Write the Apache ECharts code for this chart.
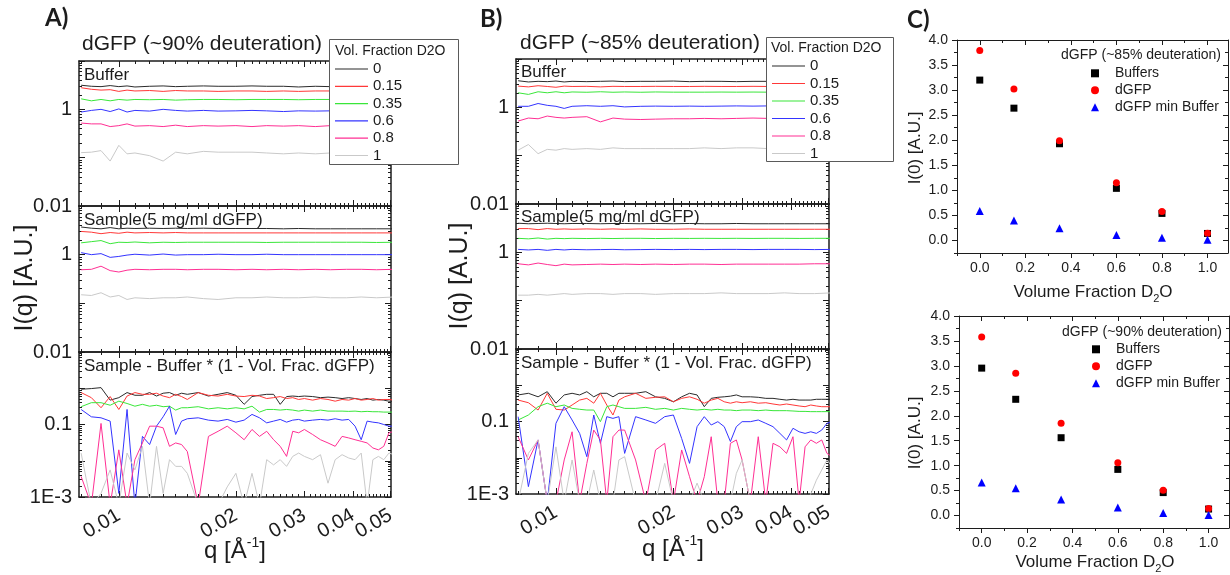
<!DOCTYPE html>
<html>
<head>
<meta charset="utf-8">
<script src="https://cdn.jsdelivr.net/npm/echarts@6/dist/echarts.min.js"></script>
<style>
  html, body { margin: 0; padding: 0; background: #ffffff; }
  #chart { width: 1230px; height: 575px; }
</style>
</head>
<body>
<div id="chart"></div>
<script>
// ---------------- data ----------------
// scattering vector q (1/Å) sampled for the flat curves and for the noisy difference curves
const qCoarse = [0.0080, 0.0085, 0.0090, 0.0095, 0.0100, 0.0105, 0.0110, 0.0120, 0.0130, 0.0140, 0.0150, 0.0165,
                 0.0180, 0.0200, 0.0220, 0.0240, 0.0265, 0.0290, 0.0320, 0.0350, 0.0385, 0.0420, 0.0460, 0.0510];
const qFine = [0.0080, 0.0085, 0.0090, 0.0095, 0.0100, 0.0105, 0.0110, 0.0115, 0.0120, 0.0125, 0.0130, 0.0135, 0.0140, 0.0145, 0.0150,
               0.0160, 0.0170, 0.0180, 0.0190, 0.0200, 0.0210, 0.0220, 0.0230, 0.0240, 0.0250, 0.0260, 0.0270, 0.0280, 0.0290, 0.0300,
               0.0315, 0.0330, 0.0345, 0.0360, 0.0375, 0.0390, 0.0405, 0.0420, 0.0435, 0.0450, 0.0465, 0.0480, 0.0495, 0.0510];

const volFractions = ['0', '0.15', '0.35', '0.6', '0.8', '1'];

// dGFP ~90 % deuteration : buffers
const bufA0   = [3.15, 3.0, 2.95, 3.1, 2.95, 3.05, 2.9, 3.0, 3.05, 2.95, 3.0, 3.05, 3.0, 3.0, 3.05, 3.0, 3.0, 2.9, 3.0, 2.95, 3.0, 2.95, 3.0, 3.0];
const bufA15  = [2.8, 2.6, 2.5, 2.55, 2.35, 2.5, 2.4, 2.45, 2.35, 2.45, 2.4, 2.4, 2.35, 2.4, 2.4, 2.35, 2.4, 2.35, 2.4, 2.4, 2.35, 2.4, 2.4, 2.4];
const bufA35  = [1.65, 1.5, 1.6, 1.5, 1.6, 1.55, 1.6, 1.58, 1.6, 1.55, 1.58, 1.6, 1.6, 1.58, 1.6, 1.6, 1.6, 1.58, 1.6, 1.6, 1.58, 1.6, 1.6, 1.6];
const bufA60  = [0.88, 0.95, 1.0, 0.9, 1.02, 0.88, 0.95, 0.92, 1.0, 0.95, 0.92, 0.95, 0.92, 0.93, 0.95, 0.93, 0.9, 0.93, 0.92, 0.93, 0.92, 0.93, 0.93, 0.92];
const bufA80  = [0.52, 0.5, 0.5, 0.44, 0.46, 0.5, 0.45, 0.46, 0.44, 0.47, 0.44, 0.46, 0.45, 0.46, 0.44, 0.46, 0.45, 0.46, 0.44, 0.46, 0.45, 0.46, 0.46, 0.47];
const bufA100 = [0.127, 0.13, 0.14, 0.085, 0.18, 0.12, 0.125, 0.11, 0.085, 0.13, 0.12, 0.135, 0.13, 0.13, 0.13, 0.125, 0.12, 0.125, 0.12, 0.125, 0.12, 0.125, 0.12, 0.125];
// dGFP ~90 % deuteration : samples
const smpA0   = [3.7, 3.5, 3.4, 3.6, 3.4, 3.5, 3.45, 3.5, 3.45, 3.5, 3.45, 3.5, 3.45, 3.45, 3.45, 3.45, 3.4, 3.45, 3.4, 3.4, 3.4, 3.4, 3.4, 3.4];
const smpA15  = [3.0, 2.9, 2.7, 2.85, 2.75, 2.9, 2.8, 2.85, 2.8, 2.85, 2.8, 2.8, 2.8, 2.8, 2.8, 2.8, 2.8, 2.8, 2.8, 2.8, 2.8, 2.8, 2.8, 2.8];
const smpA35  = [1.75, 1.85, 1.95, 1.68, 1.8, 1.78, 1.82, 1.75, 1.8, 1.78, 1.8, 1.8, 1.8, 1.8, 1.8, 1.78, 1.8, 1.8, 1.8, 1.8, 1.8, 1.8, 1.78, 1.8];
const smpA60  = [1.1, 1.0, 1.05, 0.88, 0.92, 0.98, 1.02, 0.98, 1.03, 0.98, 1.0, 1.0, 1.02, 1.0, 1.0, 1.02, 1.0, 1.0, 1.0, 1.0, 1.0, 1.0, 1.0, 1.0];
const smpA80  = [0.49, 0.5, 0.58, 0.47, 0.44, 0.48, 0.5, 0.49, 0.5, 0.5, 0.49, 0.5, 0.5, 0.49, 0.5, 0.49, 0.5, 0.49, 0.5, 0.49, 0.5, 0.5, 0.49, 0.5];
const smpA100 = [0.15, 0.145, 0.165, 0.135, 0.145, 0.12, 0.13, 0.125, 0.13, 0.13, 0.135, 0.125, 0.12, 0.13, 0.13, 0.135, 0.13, 0.13, 0.135, 0.13, 0.13, 0.135, 0.13, 0.135];
// dGFP ~90 % deuteration : sample - buffer * (1 - vol. frac. dGFP)
const difA0   = [0.94, 0.98, 1.04, 0.47, 0.55, 0.76, 0.64, 0.64, 0.76, 0.61, 0.73, 0.76, 0.64, 0.73, 0.68, 0.76, 0.61, 0.68, 0.76, 0.64, 0.36, 0.59,
                 0.64, 0.68, 0.68, 0.36, 0.59, 0.61, 0.59, 0.61, 0.59, 0.55, 0.57, 0.55, 0.52, 0.55, 0.52, 0.49, 0.52, 0.47, 0.49, 0.47, 0.44, 0.44];
const difA15  = [0.76, 0.55, 0.29, 0.59, 0.26, 0.61, 0.76, 0.68, 0.68, 0.73, 0.61, 0.55, 0.68, 0.59, 0.49, 0.76, 0.64, 0.61, 0.68, 0.61, 0.59, 0.64,
                 0.61, 0.52, 0.55, 0.59, 0.52, 0.55, 0.49, 0.52, 0.47, 0.52, 0.49, 0.44, 0.49, 0.47, 0.52, 0.47, 0.49, 0.52, 0.47, 0.49, 0.49, 0.47];
const difA35  = [0.31, 0.40, 0.40, 0.34, 0.44, 0.38, 0.32, 0.36, 0.32, 0.34, 0.31, 0.32, 0.25, 0.29, 0.29, 0.31, 0.27, 0.29, 0.27, 0.29, 0.27, 0.32,
                 0.22, 0.26, 0.26, 0.25, 0.26, 0.25, 0.234, 0.25, 0.234, 0.25, 0.234, 0.234, 0.234, 0.23, 0.234, 0.225, 0.23, 0.225, 0.225, 0.22, 0.22, 0.22];
const difA60  = [0.26, 0.163, 0.153, 0.124, 0.00126, 0.26, 0.0006, 0.047, 0.028, 0.09, 0.163, 0.32, 0.053, 0.124, 0.144, 0.153, 0.132, 0.124, 0.138, 0.116, 0.132, 0.19,
                 0.153, 0.111, 0.124, 0.138, 0.116, 0.132, 0.138, 0.124, 0.132, 0.138, 0.132, 0.144, 0.132, 0.138, 0.09, 0.038, 0.124, 0.116, 0.111, 0.1, 0.09, 0.09];
const difA80  = [0.0037, 0.0006, 0.107, 0.0006, 0.02, 0.0006, 0.0107, 0.031, 0.09, 0.09, 0.081, 0.025, 0.031, 0.028, 0.018, 0.0006, 0.047, 0.065, 0.09, 0.059, 0.038, 0.073,
                 0.047, 0.065, 0.038, 0.025, 0.0132, 0.065, 0.059, 0.073, 0.053, 0.038, 0.031, 0.025, 0.047, 0.0426, 0.038, 0.0344, 0.031, 0.0225, 0.02, 0.025, 0.059, 0.065];
const difA100 = [0.0163, 0.0006, 0.00126, 0.0056, 0.0006, 0.0163, 0.0056, 0.025, 0.0006, 0.025, 0.00126, 0.0107, 0.007, 0.007, 0.0045, 0.0006, 0.0006, 0.0006, 0.0019, 0.0045, 0.0006, 0.0045,
                 0.0006, 0.0107, 0.0077, 0.0107, 0.007, 0.0132, 0.0163, 0.0132, 0.0107, 0.0147, 0.0024, 0.0107, 0.0147, 0.0119, 0.0107, 0.0163, 0.0006, 0.0107, 0.0132, 0.0107, 0.0163, 0.0147];

// dGFP ~85 % deuteration : buffers
const bufB0   = [3.55, 3.35, 3.45, 3.4, 3.5, 3.35, 3.45, 3.4, 3.45, 3.5, 3.4, 3.45, 3.45, 3.5, 3.4, 3.45, 3.45, 3.4, 3.45, 3.45, 3.45, 3.45, 3.45, 3.45];
const bufB15  = [2.75, 2.65, 2.8, 2.7, 2.6, 2.75, 2.7, 2.72, 2.65, 2.72, 2.7, 2.7, 2.72, 2.7, 2.7, 2.72, 2.7, 2.7, 2.72, 2.7, 2.7, 2.7, 2.72, 2.7];
const bufB35  = [2.0, 1.85, 2.1, 2.0, 2.1, 2.0, 2.08, 2.05, 2.1, 2.05, 2.08, 2.05, 2.08, 2.06, 2.06, 2.06, 2.07, 2.06, 2.07, 2.06, 2.06, 2.07, 2.06, 2.07];
const bufB60  = [1.05, 1.05, 1.2, 1.1, 1.05, 0.95, 1.05, 1.08, 1.05, 1.08, 1.02, 1.05, 1.06, 1.05, 1.06, 1.05, 1.06, 1.07, 1.06, 1.07, 1.06, 1.08, 1.07, 1.08];
const bufB80  = [0.52, 0.6, 0.58, 0.66, 0.62, 0.6, 0.62, 0.64, 0.5, 0.6, 0.57, 0.56, 0.57, 0.58, 0.58, 0.59, 0.58, 0.59, 0.6, 0.59, 0.6, 0.6, 0.61, 0.61];
const bufB100 = [0.13, 0.17, 0.11, 0.135, 0.13, 0.14, 0.135, 0.14, 0.135, 0.145, 0.14, 0.14, 0.14, 0.14, 0.14, 0.145, 0.14, 0.145, 0.145, 0.14, 0.145, 0.145, 0.14, 0.145];
// dGFP ~85 % deuteration : samples
const smpB0   = [4.0, 3.9, 3.95, 4.0, 3.95, 3.9, 3.95, 3.95, 3.9, 3.95, 3.95, 3.9, 3.95, 3.9, 3.95, 3.9, 3.9, 3.95, 3.9, 3.9, 3.9, 3.9, 3.9, 3.9];
const smpB15  = [3.1, 3.1, 2.95, 3.1, 3.0, 3.05, 3.0, 3.05, 3.0, 3.05, 3.0, 3.05, 3.0, 3.0, 3.05, 3.0, 3.0, 3.0, 3.0, 3.0, 3.0, 3.0, 3.0, 3.0];
const smpB35  = [1.95, 1.9, 1.98, 1.88, 1.95, 1.92, 1.95, 1.93, 1.95, 1.93, 1.95, 1.95, 1.93, 1.95, 1.94, 1.95, 1.94, 1.95, 1.94, 1.95, 1.95, 1.94, 1.95, 1.95];
const smpB60  = [1.15, 1.12, 1.15, 1.1, 1.15, 1.12, 1.15, 1.13, 1.14, 1.15, 1.13, 1.14, 1.15, 1.14, 1.15, 1.14, 1.15, 1.15, 1.14, 1.15, 1.15, 1.15, 1.14, 1.15];
const smpB80  = [0.58, 0.55, 0.6, 0.56, 0.53, 0.57, 0.55, 0.56, 0.57, 0.56, 0.57, 0.56, 0.57, 0.56, 0.57, 0.57, 0.56, 0.57, 0.57, 0.57, 0.57, 0.57, 0.58, 0.58];
const smpB100 = [0.13, 0.13, 0.135, 0.13, 0.135, 0.14, 0.135, 0.14, 0.14, 0.135, 0.14, 0.14, 0.135, 0.14, 0.14, 0.14, 0.145, 0.14, 0.14, 0.14, 0.145, 0.14, 0.14, 0.145];
// dGFP ~85 % deuteration : sample - buffer * (1 - vol. frac. dGFP)
const difB0   = [0.54, 0.60, 0.48, 0.665, 0.32, 0.54, 0.60, 0.54, 0.665, 0.48, 0.60, 0.60, 0.48, 0.60, 0.60, 0.60, 0.665, 0.48, 0.435, 0.35, 0.48, 0.60,
                 0.54, 0.256, 0.435, 0.465, 0.48, 0.50, 0.54, 0.48, 0.48, 0.465, 0.435, 0.435, 0.41, 0.39, 0.41, 0.39, 0.39, 0.39, 0.41, 0.41, 0.41, 0.41];
const difB15  = [0.39, 0.33, 0.207, 0.60, 0.217, 0.207, 0.285, 0.39, 0.435, 0.32, 0.60, 0.285, 0.151, 0.39, 0.48, 0.60, 0.435, 0.465, 0.48, 0.35, 0.435, 0.48,
                 0.41, 0.32, 0.39, 0.435, 0.35, 0.32, 0.35, 0.33, 0.35, 0.32, 0.33, 0.304, 0.285, 0.304, 0.285, 0.268, 0.256, 0.285, 0.268, 0.256, 0.256, 0.256];
const difB35  = [0.11, 0.151, 0.256, 0.32, 0.256, 0.285, 0.23, 0.217, 0.207, 0.207, 0.099, 0.256, 0.285, 0.256, 0.23, 0.23, 0.246, 0.217, 0.23, 0.207, 0.23, 0.217,
                 0.207, 0.217, 0.207, 0.217, 0.207, 0.207, 0.199, 0.207, 0.207, 0.199, 0.207, 0.199, 0.199, 0.199, 0.195, 0.19, 0.19, 0.187, 0.187, 0.187, 0.187, 0.187];
const difB60  = [0.136, 0.0016, 0.031, 0.0006, 0.089, 0.256, 0.11, 0.047, 0.0107, 0.151, 0.025, 0.136, 0.122, 0.136, 0.0132, 0.136, 0.11, 0.089, 0.136, 0.151, 0.034, 0.007,
                 0.072, 0.136, 0.08, 0.099, 0.072, 0.028, 0.072, 0.099, 0.099, 0.11, 0.089, 0.072, 0.047, 0.031, 0.065, 0.052, 0.047, 0.052, 0.047, 0.058, 0.089, 0.099];
const difB80  = [0.038, 0.0087, 0.031, 0.0006, 0.0006, 0.0087, 0.052, 0.0006, 0.007, 0.058, 0.031, 0.0006, 0.038, 0.058, 0.058, 0.0087, 0.0006, 0.0164, 0.025, 0.0006, 0.0164, 0.003,
                 0.0006, 0.003, 0.038, 0.0006, 0.0006, 0.025, 0.031, 0.0087, 0.0006, 0.038, 0.0006, 0.025, 0.020, 0.0132, 0.038, 0.0006, 0.020, 0.031, 0.025, 0.031, 0.0132, 0.0107];
const difB100 = [0.0006, 0.0132, 0.031, 0.0006, 0.020, 0.0006, 0.0087, 0.0006, 0.0006, 0.0046, 0.0006, 0.0006, 0.0006, 0.0087, 0.0107, 0.0006, 0.0006, 0.0006, 0.007, 0.0006, 0.0006, 0.0006,
                 0.002, 0.0006, 0.0006, 0.0006, 0.0006, 0.0006, 0.0037, 0.0087, 0.0006, 0.0006, 0.0006, 0.0006, 0.0006, 0.0006, 0.0006, 0.0006, 0.0006, 0.001, 0.0024, 0.0046, 0.0087, 0.0057];

// forward scattering I(0) versus D2O volume fraction
const d2oFraction = [0, 0.15, 0.35, 0.6, 0.8, 1.0];
const i0Buffers85 = [3.2, 2.64, 1.93, 1.04, 0.54, 0.14];
const i0Dgfp85    = [3.79, 3.02, 1.99, 1.15, 0.58, 0.146];
const i0Diff85    = [0.59, 0.40, 0.245, 0.11, 0.053, 0.013];
const i0Buffers90 = [2.955, 2.33, 1.56, 0.925, 0.46, 0.13];
const i0Dgfp90    = [3.58, 2.85, 1.85, 1.06, 0.506, 0.14];
const i0Diff90    = [0.66, 0.545, 0.32, 0.16, 0.053, 0.013];

// ticks and tick labels
const Q_MIN = 0.0079, Q_MAX = 0.0501;
const qTickValues = [0.01, 0.02, 0.03, 0.04, 0.05];
const qTickLabelsLow = [0.01, 0.02, 0.03, 0.04];
const qTickLabelsEnd = [0.05];
const qMinorTicks = [0.008, 0.009, 0.011, 0.012, 0.013, 0.014, 0.015, 0.016, 0.017, 0.018, 0.019,
                     0.021, 0.022, 0.023, 0.024, 0.025, 0.026, 0.027, 0.028, 0.029,
                     0.031, 0.032, 0.033, 0.034, 0.035, 0.036, 0.037, 0.038, 0.039,
                     0.041, 0.042, 0.043, 0.044, 0.045, 0.046, 0.047, 0.048, 0.049];
const iDecades = [0.001, 0.01, 0.1, 1, 10];
const iMinorTicks = [0.002, 0.003, 0.004, 0.005, 0.006, 0.007, 0.008, 0.009,
                     0.02, 0.03, 0.04, 0.05, 0.06, 0.07, 0.08, 0.09,
                     0.2, 0.3, 0.4, 0.5, 0.6, 0.7, 0.8, 0.9,
                     2, 3, 4, 5, 6, 7, 8, 9];
const iLabelsUpper = [0.01, 1];
const iLabelsDiff = [0.001, 0.1];
const d2oTickLabels = [0, 0.2, 0.4, 0.6, 0.8, 1.0];
const d2oMinorTicks = [-0.1, 0.1, 0.3, 0.5, 0.7, 0.9];
const i0TickLabels = [0, 0.5, 1.0, 1.5, 2.0, 2.5, 3.0, 3.5, 4.0];
const i0MinorTicks = [-0.25, 0.25, 0.75, 1.25, 1.75, 2.25, 2.75, 3.25, 3.75];

// ---------------- styling ----------------
const FONT = '"Liberation Sans", Arial, Helvetica, sans-serif';
const INK = '#1c1c1c';
const lineColors = ['#2b2b2b', '#ff3838', '#3ae63a', '#3434ff', '#ff2f93', '#c9c9c9'];

const grids = [], xAxes = [], yAxes = [], series = [];

function axisBase(gi, type, position, min, max, lw, label) {
  const o = {
    type: type, gridIndex: gi, position: position, min: min, max: max,
    axisLine: { show: true, onZero: false, lineStyle: { color: INK, width: lw } },
    axisLabel: label || { show: false },
    splitLine: { show: false },
    minorTick: { show: false },
    minorSplitLine: { show: false },
    axisPointer: { show: false },
    silent: true
  };
  if (type === 'log') o.logBase = 10;
  return o;
}

// one axis carries the line, labels and major ticks; a twin on the same side carries the
// minor ticks (and, optionally, a separate set of labels)
function addTicks(list, base, inside, major, minor, majLen, minLen, twinLabel) {
  const idx = list.length;
  list.push(Object.assign({}, base, {
    axisTick: { show: true, inside: inside, length: majLen, customValues: major, lineStyle: { color: INK, width: 1 } }
  }));
  list.push(Object.assign({}, base, {
    axisLine: { show: false, onZero: false },
    axisLabel: twinLabel || { show: false },
    axisTick: { show: true, inside: inside, length: minLen, customValues: minor, lineStyle: { color: INK, width: 1 } }
  }));
  return idx;
}

function fmtNum(v) { return String(+(+v).toPrecision(2)); }

function qLabelStyle(values) {
  return {
    show: true, customValues: values, rotate: 30, margin: 17, hideOverlap: false,
    fontSize: 20, fontFamily: FONT, color: INK, formatter: fmtNum
  };
}

function addLogPanel(box, yMin, yMax, yLabelValues, withQLabels) {
  const gi = grids.length;
  grids.push(Object.assign({ outerBoundsMode: 'none', containLabel: false }, box));
  const yMaj = iDecades.filter(v => v >= yMin && v <= yMax);
  const yMnr = iMinorTicks.filter(v => v >= yMin && v <= yMax);
  const xi = addTicks(xAxes, axisBase(gi, 'log', 'bottom', Q_MIN, Q_MAX, 1.5, withQLabels ? qLabelStyle(qTickLabelsLow) : null),
                      true, qTickValues, qMinorTicks, 6, 3, withQLabels ? qLabelStyle(qTickLabelsEnd) : null);
  addTicks(xAxes, axisBase(gi, 'log', 'top', Q_MIN, Q_MAX, 1.5), true, qTickValues, qMinorTicks, 6, 3);
  const yLabel = {
    show: true, customValues: yLabelValues, margin: 7, fontSize: 20, fontFamily: FONT, color: INK,
    hideOverlap: false,
    formatter: v => (+v < 0.005 ? '1E-3' : fmtNum(v))
  };
  const yi = addTicks(yAxes, axisBase(gi, 'log', 'left', yMin, yMax, 1.5, yLabel), true, yMaj, yMnr, 6, 3);
  addTicks(yAxes, axisBase(gi, 'log', 'right', yMin, yMax, 1.5), true, yMaj, yMnr, 6, 3);
  return { xi: xi, yi: yi };
}

function addCurves(axes, q, curves) {
  curves.forEach((vals, k) => {
    series.push({
      type: 'line', name: volFractions[k], xAxisIndex: axes.xi, yAxisIndex: axes.yi,
      data: q.map((x, i) => [x, vals[i]]),
      symbol: 'none', showSymbol: false, clip: true, silent: true, z: 2,
      lineStyle: { width: 1, color: lineColors[k] }, itemStyle: { color: lineColors[k] }
    });
  });
}

function addI0Panel(box, buffers, dgfp, diff) {
  const gi = grids.length;
  grids.push(Object.assign({ outerBoundsMode: 'none', containLabel: false }, box));
  const xLabel = { show: true, customValues: d2oTickLabels, margin: 8, fontSize: 14, fontFamily: FONT, color: INK, formatter: v => (+v).toFixed(1) };
  const xi = addTicks(xAxes, axisBase(gi, 'value', 'bottom', -0.1, 1.09, 1, xLabel), false, d2oTickLabels, d2oMinorTicks, 5, 3);
  addTicks(xAxes, axisBase(gi, 'value', 'top', -0.1, 1.09, 1), true, d2oTickLabels, d2oMinorTicks, 5, 3);
  const yLabel = { show: true, customValues: i0TickLabels, margin: 9, fontSize: 14, fontFamily: FONT, color: INK, formatter: v => (+v).toFixed(1) };
  const yi = addTicks(yAxes, axisBase(gi, 'value', 'left', -0.25, 4, 1, yLabel), false, i0TickLabels, i0MinorTicks, 5, 3);
  addTicks(yAxes, axisBase(gi, 'value', 'right', -0.25, 4, 1), true, i0TickLabels, i0MinorTicks, 5, 3);
  const sets = [
    { name: 'Buffers', vals: buffers, symbol: 'rect', size: 7, color: '#000000' },
    { name: 'dGFP', vals: dgfp, symbol: 'circle', size: 7, color: '#ff0000' },
    { name: 'dGFP min Buffer', vals: diff, symbol: 'triangle', size: 8, color: '#0000ff' }
  ];
  sets.forEach(s => {
    series.push({
      type: 'scatter', name: s.name, xAxisIndex: xi, yAxisIndex: yi,
      data: d2oFraction.map((x, i) => [x, s.vals[i]]),
      symbol: s.symbol, symbolSize: s.size, itemStyle: { color: s.color, opacity: 1 }, silent: true, z: 3
    });
  });
}

// ---------------- panels ----------------
addCurves(addLogPanel({ left: 79, top: 61, width: 312, height: 145 }, 0.01, 10, iLabelsUpper, false), qCoarse,
          [bufA0, bufA15, bufA35, bufA60, bufA80, bufA100]);
addCurves(addLogPanel({ left: 79, top: 206, width: 312, height: 146 }, 0.01, 10, iLabelsUpper, false), qCoarse,
          [smpA0, smpA15, smpA35, smpA60, smpA80, smpA100]);
addCurves(addLogPanel({ left: 79, top: 352, width: 312, height: 145 }, 0.001, 10, iLabelsDiff, true), qFine,
          [difA0, difA15, difA35, difA60, difA80, difA100]);

addCurves(addLogPanel({ left: 516, top: 59, width: 313, height: 145 }, 0.01, 10, iLabelsUpper, false), qCoarse,
          [bufB0, bufB15, bufB35, bufB60, bufB80, bufB100]);
addCurves(addLogPanel({ left: 516, top: 204, width: 313, height: 145 }, 0.01, 10, iLabelsUpper, false), qCoarse,
          [smpB0, smpB15, smpB35, smpB60, smpB80, smpB100]);
addCurves(addLogPanel({ left: 516, top: 349, width: 313, height: 145 }, 0.001, 10, iLabelsDiff, true), qFine,
          [difB0, difB15, difB35, difB60, difB80, difB100]);

addI0Panel({ left: 957, top: 40, width: 271, height: 213 }, i0Buffers85, i0Dgfp85, i0Diff85);
addI0Panel({ left: 959, top: 316, width: 270, height: 212 }, i0Buffers90, i0Dgfp90, i0Diff90);

// ---------------- text ----------------
function txt(text, x, y, o) {
  o = o || {};
  return {
    type: 'text', x: x, y: y, rotation: o.rotation || 0, z: 30, silent: true,
    style: {
      text: text, fill: INK,
      fontSize: o.size || 14, fontFamily: o.family || FONT, fontWeight: o.weight || 'normal',
      lineHeight: o.lineHeight, rich: o.rich,
      textAlign: o.align || 'left', textVerticalAlign: o.valign || 'middle'
    }
  };
}
const qTitleRich = { sup: { fontSize: 14, lineHeight: 14, verticalAlign: 'top', fontFamily: FONT } };
const d2oRich = { sub: { fontSize: 11, lineHeight: 12, verticalAlign: 'bottom', fontFamily: FONT } };

const graphics = [
  // legend frames
  { type: 'rect', z: 10, silent: true, shape: { x: 329.5, y: 39.5, width: 129, height: 125 }, style: { fill: '#ffffff', stroke: '#5a5a5a', lineWidth: 1 } },
  { type: 'rect', z: 10, silent: true, shape: { x: 766.5, y: 37.5, width: 127, height: 124 }, style: { fill: '#ffffff', stroke: '#5a5a5a', lineWidth: 1 } },
  txt('Vol. Fraction D2O', 335, 51.5, { size: 14 }),
  txt('Vol. Fraction D2O', 771, 48.5, { size: 14 }),

  // panel letters and headings
  txt('A)', 45, 18.5, { size: 24, weight: 'bold', family: 'Lato, "Open Sans", sans-serif' }),
  txt('B)', 480, 19, { size: 24, weight: 'bold', family: 'Lato, "Open Sans", sans-serif' }),
  txt('C)', 907, 20, { size: 24, weight: 'bold', family: 'Lato, "Open Sans", sans-serif' }),
  txt('dGFP (~90% deuteration)', 82, 44, { size: 21 }),
  txt('dGFP (~85% deuteration)', 520, 43, { size: 21 }),

  // sub-panel captions
  txt('Buffer', 84, 75, { size: 17 }),
  txt('Sample(5 mg/ml dGFP)', 84, 220, { size: 17 }),
  txt('Sample - Buffer * (1 - Vol. Frac. dGFP)', 84, 366, { size: 17 }),
  txt('Buffer', 521, 72, { size: 17 }),
  txt('Sample(5 mg/ml dGFP)', 521, 217, { size: 17 }),
  txt('Sample - Buffer * (1 - Vol. Frac. dGFP)', 521, 363, { size: 17 }),

  // axis titles of the scattering curves
  txt('I(q) [A.U.]', 25, 278, { size: 25, rotation: Math.PI / 2, align: 'center' }),
  txt('I(q) [A.U.]', 460, 276, { size: 25, rotation: Math.PI / 2, align: 'center' }),
  txt('q [Å{sup|-1}]', 235, 551, { size: 24, lineHeight: 30, align: 'center', rich: qTitleRich }),
  txt('q [Å{sup|-1}]', 673, 549, { size: 24, lineHeight: 30, align: 'center', rich: qTitleRich }),

  // I(0) panels
  txt('I(0) [A.U.]', 915, 148, { size: 17, rotation: Math.PI / 2, align: 'center' }),
  txt('I(0) [A.U.]', 915, 433, { size: 17, rotation: Math.PI / 2, align: 'center' }),
  txt('Volume Fraction D{sub|2}O', 1093, 292, { size: 17, lineHeight: 24, align: 'center', rich: d2oRich }),
  txt('Volume Fraction D{sub|2}O', 1095, 562, { size: 17, lineHeight: 24, align: 'center', rich: d2oRich }),
  txt('dGFP (~85% deuteration)', 1221, 55, { size: 14, align: 'right' }),
  txt('dGFP (~90% deuteration)', 1222, 332, { size: 14, align: 'right' })
];

const legendText = { fontSize: 15, fontFamily: FONT, color: INK };
const i0Legend = { fontSize: 14, fontFamily: FONT, color: INK, padding: [0, 0, 0, 11] };
const legends = [
  { data: volFractions, orient: 'vertical', left: 335, top: 61.5, icon: 'rect', itemWidth: 33, itemHeight: 1.2, itemGap: 2.3,
    padding: 0, selectedMode: false, z: 20, textStyle: legendText },
  { data: volFractions, orient: 'vertical', left: 772, top: 58.5, icon: 'rect', itemWidth: 33, itemHeight: 1.2, itemGap: 2.5,
    padding: 0, selectedMode: false, z: 20, textStyle: legendText },
  { data: ['Buffers', 'dGFP', 'dGFP min Buffer'], orient: 'vertical', left: 1091, top: 66.3, itemWidth: 8, itemHeight: 8, itemGap: 3,
    padding: 0, selectedMode: false, z: 20, textStyle: i0Legend },
  { data: ['Buffers', 'dGFP', 'dGFP min Buffer'], orient: 'vertical', left: 1092, top: 342.3, itemWidth: 8, itemHeight: 8, itemGap: 3,
    padding: 0, selectedMode: false, z: 20, textStyle: i0Legend }
];

const chart = echarts.init(document.getElementById('chart'), null, { renderer: 'canvas' });
chart.setOption({
  animation: false,
  backgroundColor: '#ffffff',
  textStyle: { fontFamily: FONT },
  grid: grids,
  xAxis: xAxes,
  yAxis: yAxes,
  legend: legends,
  series: series,
  graphic: { elements: graphics }
});
</script>
</body>
</html>
